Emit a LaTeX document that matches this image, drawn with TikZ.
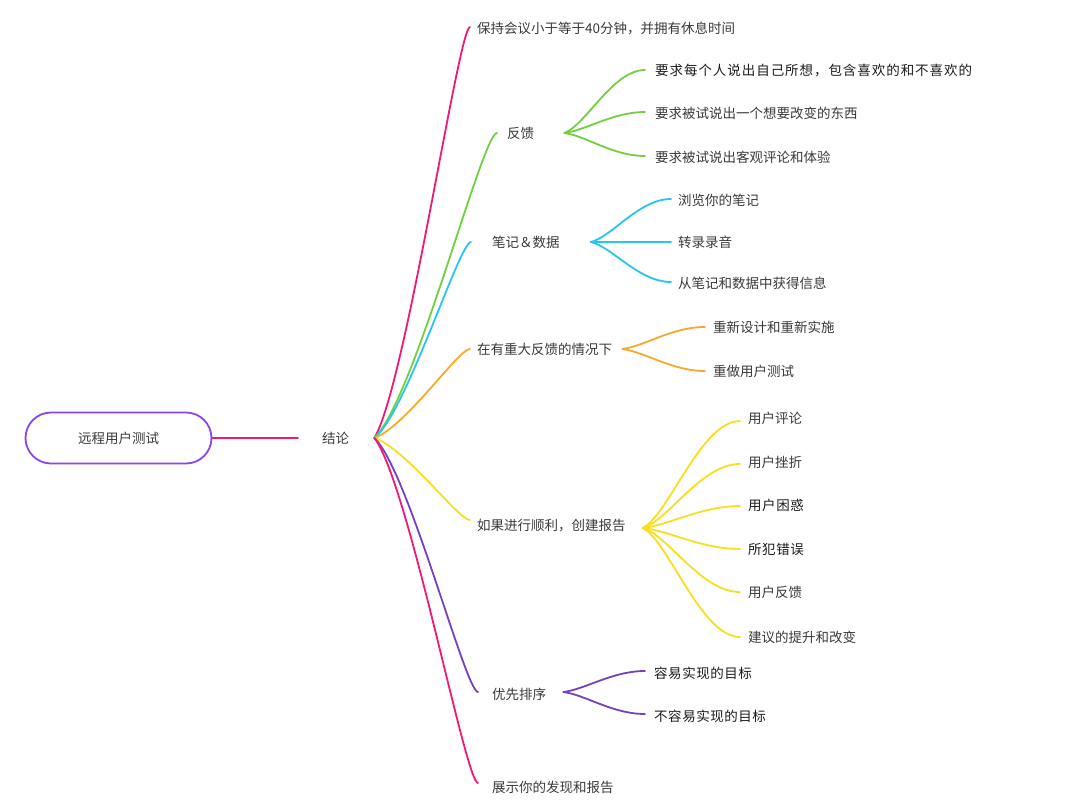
\documentclass[tikz,border=0pt]{standalone}
\usepackage{fontspec}
\setmainfont{Noto Sans CJK SC}
\newfontfamily\spacedA[LetterSpace=7]{Noto Sans CJK SC}
\newfontfamily\spacedB[LetterSpace=4]{Noto Sans CJK SC}
\usetikzlibrary{calc}
\definecolor{cpink}{HTML}{F01978}
\definecolor{cgreen}{HTML}{72D03F}
\definecolor{ccyan}{HTML}{27C5EF}
\definecolor{corange}{HTML}{F5AA2B}
\definecolor{cyellow}{HTML}{F9DF1D}
\definecolor{cpurple}{HTML}{7541C4}
\definecolor{croot}{HTML}{8A45F2}
\definecolor{ctext}{HTML}{3A3A3A}
\definecolor{cdark}{HTML}{1C1C1C}
% main-level branch (from the central topic)
\newcommand\brMain[3]{\draw[branch,#1] let \p1=(#2), \p2=(#3) in (\p1) .. controls ({\x1+0.33*(\x2-\x1)},{\y1+0.13*(\y2-\y1)}) and ({\x2-0.12*(\x2-\x1)},{\y2}) .. (\p2);}
% second-level fan branch
\newcommand\brFan[3]{\draw[branch,#1] let \p1=(#2), \p2=(#3) in (\p1) .. controls ({\x1+0.27*(\x2-\x1)},{\y1+0.13*(\y2-\y1)}) and ({\x2-0.4*(\x2-\x1)},{\y2}) .. (\p2);}
\begin{document}
\begin{tikzpicture}[x=1pt,y=-1pt,
  txt/.style={anchor=west,inner sep=0pt,text=ctext,font=\fontsize{13.5}{16}\selectfont},
  dtxt/.style={txt,text=cdark},
  branch/.style={line width=1.8pt,line cap=round}]
\useasboundingbox (0,0) rectangle (1080,809);
\fill[white] (0,0) rectangle (1080,809);

% root and central topic
\node[draw=croot,line width=1.8pt,rounded corners=25.5pt,minimum width=186pt,minimum height=51pt,inner sep=0pt,text=ctext,font=\fontsize{13.5}{16}\selectfont] (root) at (118.5,438) {远程用户测试};
\node[txt] (jl) at (322,438) {结论};
\coordinate (jl-i) at ([xshift=-24pt]jl.west);
\coordinate (jl-o) at ([xshift=25pt]jl.east);
\draw[branch,cpink] (root.east) -- (jl-i);

% first level topics
\node[txt] (t1) at (477,28) {保持会议小于等于40分钟，并拥有休息时间};
\coordinate (t1-i) at ([xshift=-7pt,yshift=1pt]t1.west);
\node[txt] (fk) at (507,133) {反馈};
\coordinate (fk-i) at ([xshift=-10pt]fk.west);
\coordinate (fk-o) at ([xshift=30pt]fk.east);
\node[txt] (bj) at (492,242) {笔记＆数据};
\coordinate (bj-i) at ([xshift=-21pt]bj.west);
\coordinate (bj-o) at ([xshift=31pt]bj.east);
\node[txt] (zd) at (477,349) {在有重大反馈的情况下};
\coordinate (zd-i) at ([xshift=-7pt]zd.west);
\coordinate (zd-o) at ([xshift=10pt]zd.east);
\node[txt] (rg) at (477,526) {如果进行顺利，创建报告};
\coordinate (rg-i) at ([xshift=-7pt,yshift=6pt]rg.west);
\coordinate (rg-o) at ([xshift=17pt,yshift=-2pt]rg.east);
\node[txt] (yx) at (492,694) {优先排序};
\coordinate (yx-i) at ([xshift=-14pt,yshift=2pt]yx.west);
\coordinate (yx-o) at ([xshift=17pt,yshift=2pt]yx.east);
\node[txt] (zs) at (492,787) {展示你的发现和报告};
\coordinate (zs-i) at ([xshift=-14pt,yshift=4pt]zs.west);

\brMain{cpink}{jl-o}{t1-i}
\brMain{cgreen}{jl-o}{fk-i}
\brMain{ccyan}{jl-o}{bj-i}
\brMain{corange}{jl-o}{zd-i}
\brMain{cyellow}{jl-o}{rg-i}
\brMain{cpurple}{jl-o}{yx-i}
\brMain{cpink}{jl-o}{zs-i}

% feedback
\node[dtxt,font=\spacedA\fontsize{13.5}{16}\selectfont] (g1) at (655,71) {要求每个人说出自己所想，包含喜欢的和不喜欢的};
\node[txt] (g2) at (655,113) {要求被试说出一个想要改变的东西};
\node[txt] (g3) at (655,157) {要求被试说出客观评论和体验};
\foreach \k in {g1,g2,g3} {\coordinate (\k-i) at ([xshift=-10pt,yshift=1pt]\k.west);}
\brFan{cgreen}{fk-o}{g1-i}
\brFan{cgreen}{fk-o}{g2-i}
\brFan{cgreen}{fk-o}{g3-i}

% notes & data
\node[txt] (c1) at (678,200) {浏览你的笔记};
\node[txt] (c2) at (678,242) {转录录音};
\node[txt] (c3) at (678,283) {从笔记和数据中获得信息};
\coordinate (c1-i) at ([xshift=-7pt,yshift=1pt]c1.west);
\coordinate (c2-i) at ([xshift=-7pt]c2.west);
\coordinate (c3-i) at ([xshift=-7pt,yshift=1pt]c3.west);
\brFan{ccyan}{bj-o}{c1-i}
\brFan{ccyan}{bj-o}{c2-i}
\brFan{ccyan}{bj-o}{c3-i}

% major feedback
\node[txt] (o1) at (713,327) {重新设计和重新实施};
\node[txt] (o2) at (713,371) {重做用户测试};
\foreach \k in {o1,o2} {\coordinate (\k-i) at ([xshift=-8pt]\k.west);}
\brFan{corange}{zd-o}{o1-i}
\brFan{corange}{zd-o}{o2-i}

% report
\node[txt] (y1) at (748,418) {用户评论};
\node[txt] (y2) at (748,462) {用户挫折};
\node[dtxt,font=\spacedB\fontsize{13.5}{16}\selectfont] (y3) at (748,505) {用户困惑};
\node[dtxt,font=\spacedB\fontsize{13.5}{16}\selectfont] (y4) at (748,549) {所犯错误};
\node[txt] (y5) at (748,592) {用户反馈};
\node[txt] (y6) at (748,637) {建议的提升和改变};
\coordinate (y1-i) at ([xshift=-8pt,yshift=-3pt]y1.west);
\coordinate (y2-i) at ([xshift=-8pt,yshift=-2pt]y2.west);
\coordinate (y3-i) at ([xshift=-8pt,yshift=-1pt]y3.west);
\coordinate (y4-i) at ([xshift=-8pt]y4.west);
\coordinate (y5-i) at ([xshift=-8pt]y5.west);
\coordinate (y6-i) at ([xshift=-8pt]y6.west);
\brFan{cyellow}{rg-o}{y1-i}
\brFan{cyellow}{rg-o}{y2-i}
\brFan{cyellow}{rg-o}{y3-i}
\brFan{cyellow}{rg-o}{y4-i}
\brFan{cyellow}{rg-o}{y5-i}
\brFan{cyellow}{rg-o}{y6-i}

% priority
\node[dtxt,font=\spacedB\fontsize{13.5}{16}\selectfont] (p1) at (654,673) {容易实现的目标};
\node[dtxt,font=\spacedB\fontsize{13.5}{16}\selectfont] (p2) at (654,716) {不容易实现的目标};
\foreach \k in {p1,p2} {\coordinate (\k-i) at ([xshift=-9pt,yshift=2pt]\k.west);}
\brFan{cpurple}{yx-o}{p1-i}
\brFan{cpurple}{yx-o}{p2-i}
\end{tikzpicture}
\end{document}
